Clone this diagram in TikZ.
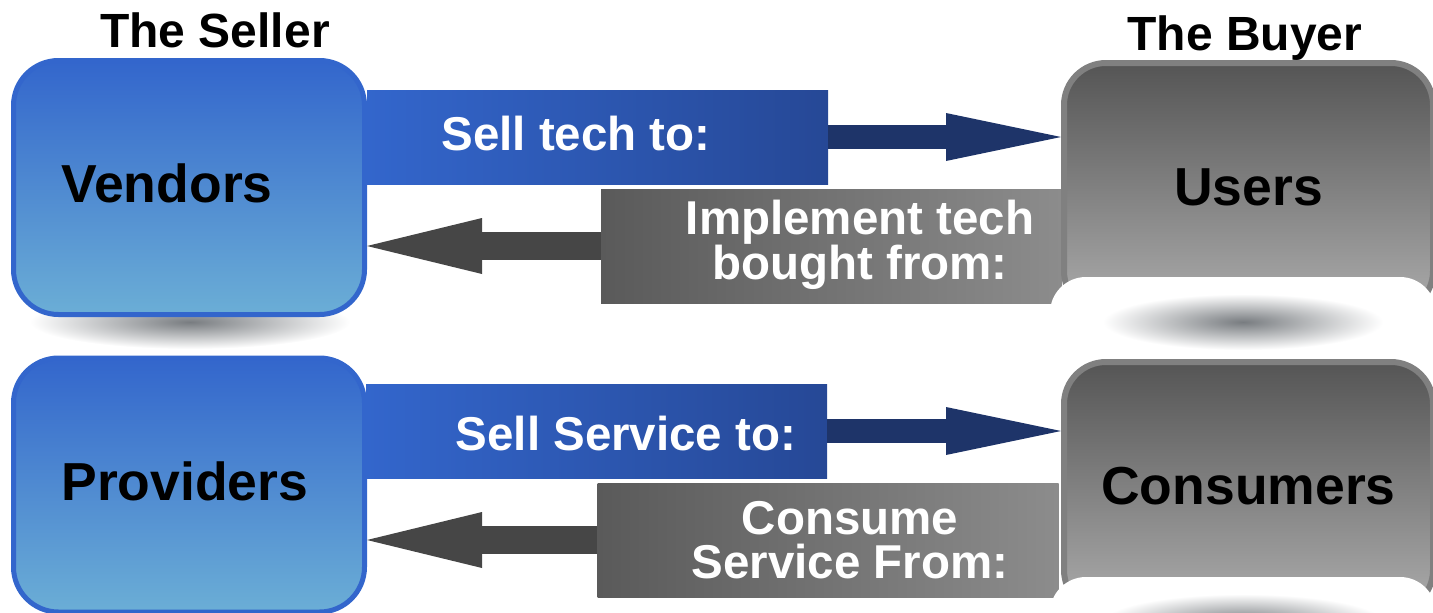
\documentclass[tikz,border=0pt]{standalone}
\usepackage{fontspec}
\setmainfont{Liberation Sans}
\usetikzlibrary{arrows.meta, positioning}
\definecolor{sellerblue}{RGB}{51,102,204}
\definecolor{sellerlight}{RGB}{107,174,214}
\definecolor{banddark}{RGB}{38,72,150}
\definecolor{arrowblue}{RGB}{30,52,105}
\definecolor{buyerborder}{RGB}{128,128,128}
\definecolor{buyertop}{RGB}{85,85,85}
\definecolor{buyerbottom}{RGB}{172,172,172}
\definecolor{grayleft}{RGB}{90,90,90}
\definecolor{grayright}{RGB}{140,140,140}
\definecolor{arrowgray}{RGB}{70,70,70}
\definecolor{shadowgray}{RGB}{120,124,128}
\tikzstyle{box} = [rectangle, font=\fontsize{53.5}{53}\selectfont\bfseries, text depth=0pt]
\tikzstyle{seller} = [box, draw=sellerblue, line width=5pt, top color=sellerblue, bottom color=sellerlight, rounded corners=45pt, minimum width=351pt, minimum height=254pt, text width=255pt, inner xsep=48pt, align=left, text height=30pt]
\tikzstyle{buyer} = [box, draw=buyerborder, line width=6pt, top color=buyertop, bottom color=buyerbottom, rounded corners=42pt, minimum width=369pt, minimum height=250pt, text height=34pt]
\tikzstyle{band} = [rectangle, minimum width=461pt, inner sep=0pt]
\tikzstyle{sellband} = [band, left color=sellerblue, right color=banddark, minimum height=94pt]
\tikzstyle{buyband} = [band, left color=grayleft, right color=grayright, minimum height=114pt]
\tikzstyle{bandtext} = [text=white, font=\fontsize{47.5}{44}\selectfont\bfseries, align=center, inner sep=0pt]
\tikzstyle{heading} = [font=\fontsize{48}{48}\selectfont\bfseries, inner sep=0pt, anchor=base]
\tikzstyle{floor} = [rectangle, fill=white, rounded corners=36pt, minimum width=386pt, minimum height=80pt]
\tikzstyle{tobuyer} = [line width=24pt, draw=arrowblue, -{Triangle[length=115pt, width=48pt, line width=0pt]}]
\tikzstyle{toseller} = [line width=28pt, draw=arrowgray, -{Triangle[length=115pt, width=56pt, line width=0pt]}]

\begin{document}
\begin{tikzpicture}[x=1pt, y=-1pt]
    \useasboundingbox (0,0) rectangle (1433,613);

    % Shadow under the first seller box.
    \shade [inner color=shadowgray, outer color=white] (190,322) ellipse [x radius=160pt, y radius=27pt];

    % Bands.
    \node (selltech) [sellband] at (597.5,137) {};
    \node (implement) [buyband] at (831.5,246) {};
    \node (sellservice) [sellband] at (596.5,431) {};
    \node (consume) [buyband] at (828,540) {};

    % Sellers and buyers.
    \node (vendors) [seller] at (189,187.5) {Vendors};
    \node (providers) [seller] at (189,485) {Providers};
    \node (users) [buyer] at (1248.5,188) {Users};
    \node (usersfloor) [floor] at (1243,317) {};
    \node (consumers) [buyer] at (1248.5,487) {Consumers};
    \node (consumersfloor) [floor] at (1243,617) {};

    \foreach \i in {users, consumers} {
        \shade [inner color=shadowgray, outer color=white] ([yshift=-5pt]\i floor.center) ellipse [x radius=140pt, y radius=28pt];
    }

    % Headings.
    \node (sellerhead) [heading] at (215,47) {The Seller};
    \node (buyerhead) [heading] at (1245,50) {The Buyer};

    % Arrows.
    \foreach \band/\target in {selltech/users, sellservice/consumers} {
        \draw [tobuyer] (\band.east) -- (\target.west |- \band.east);
    }

    \foreach \band/\target in {implement/vendors, consume/providers} {
        \draw [toseller] (\band.west) -- (\target.east |- \band.west);
    }

    % Band labels.
    \node (selltechtext) [bandtext, anchor=base] at (576,150) {Sell tech to:};
    \node (implementtext) [bandtext] at (860,245) {Implement tech\\bought from:};
    \node (sellservicetext) [bandtext, anchor=base] at (626,450) {Sell Service to:};
    \node (consumetext) [bandtext] at (850,540.5) {Consume\\Service From:};
\end{tikzpicture}
\end{document}
